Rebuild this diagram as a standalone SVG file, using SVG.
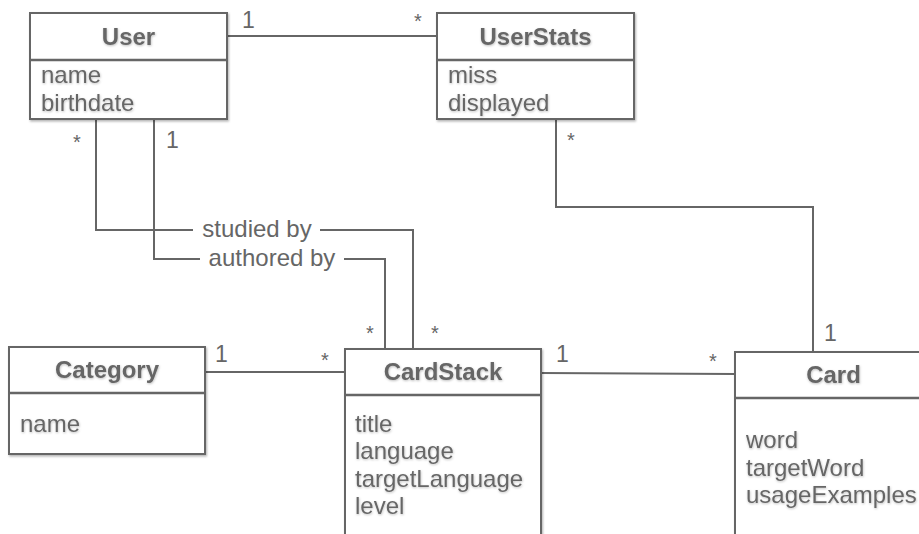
<svg xmlns="http://www.w3.org/2000/svg" width="919" height="534" viewBox="0 0 919 534">
<defs>
<filter id="sh" x="-10%" y="-10%" width="120%" height="130%">
<feDropShadow dx="1" dy="1.5" stdDeviation="1.2" flood-color="#000" flood-opacity="0.3"/>
</filter>
<filter id="tsh" x="-10%" y="-20%" width="120%" height="150%">
<feDropShadow dx="0.5" dy="1" stdDeviation="0.8" flood-color="#000" flood-opacity="0.25"/>
</filter>
</defs>
<style>
.box{fill:#fff;stroke:#666;stroke-width:2;filter:url(#sh)}
.div{stroke:#666;stroke-width:2.5;fill:none}
.t{font-family:"Liberation Sans",Arial,sans-serif;font-size:24px;fill:#666;filter:url(#tsh)}
.h{font-weight:bold;text-anchor:middle}
.c{fill:none;stroke:#666;stroke-width:2}
.m{font-family:"Liberation Sans",Arial,sans-serif;font-size:23px;fill:#666}
.s{font-family:"Liberation Sans",Arial,sans-serif;font-size:20px;fill:#666}
.lbl{font-family:"Liberation Sans",Arial,sans-serif;font-size:24px;fill:#666;text-anchor:middle}
</style>
<g id="connectors">
<path class="c" d="M227 36 H437"/>
<path class="c" d="M96 119 V230 H193"/>
<path class="c" d="M320 230 H413 V349"/>
<path class="c" d="M154 119 V259 H200"/>
<path class="c" d="M344 259 H385 V349"/>
<path class="c" d="M205 372 H345"/>
<path class="c" d="M541 373 L735 374"/>
<path class="c" d="M556 119 V207 H813 V352"/>
<text class="lbl" x="257" y="237">studied by</text>
<text class="lbl" x="272" y="266">authored by</text>
<text class="m" x="242" y="28">1</text>
<text class="s" x="414" y="28">*</text>
<text class="s" x="73" y="149">*</text>
<text class="m" x="166" y="148">1</text>
<text class="s" x="567" y="147">*</text>
<text class="s" x="366" y="340">*</text>
<text class="s" x="431" y="340">*</text>
<text class="m" x="215" y="362">1</text>
<text class="s" x="321" y="367">*</text>
<text class="m" x="556" y="362">1</text>
<text class="s" x="709" y="368">*</text>
<text class="m" x="824" y="341">1</text>
</g>
<g id="User">
<rect class="box" x="30" y="13" width="197" height="106"/>
<line class="div" x1="30" y1="60" x2="227" y2="60"/>
<text class="t h" x="128.5" y="45">User</text>
<text class="t" x="41" y="83">name</text>
<text class="t" x="41" y="111">birthdate</text>
</g>
<g id="UserStats">
<rect class="box" x="437" y="13" width="197" height="106"/>
<line class="div" x1="437" y1="60" x2="634" y2="60"/>
<text class="t h" x="535.5" y="45">UserStats</text>
<text class="t" x="448" y="83">miss</text>
<text class="t" x="448" y="111">displayed</text>
</g>
<g id="Category">
<rect class="box" x="9" y="347" width="196" height="107"/>
<line class="div" x1="9" y1="393" x2="205" y2="393"/>
<text class="t h" x="107" y="378">Category</text>
<text class="t" x="20" y="432">name</text>
</g>
<g id="CardStack">
<rect class="box" x="345" y="349" width="196" height="200"/>
<line class="div" x1="345" y1="395" x2="541" y2="395"/>
<text class="t h" x="443" y="380">CardStack</text>
<text class="t" x="355" y="432">title</text>
<text class="t" x="355" y="459">language</text>
<text class="t" x="355" y="487">targetLanguage</text>
<text class="t" x="355" y="514">level</text>
</g>
<g id="Card">
<rect class="box" x="735" y="352" width="197" height="200"/>
<line class="div" x1="735" y1="398" x2="932" y2="398"/>
<text class="t h" x="833.5" y="383">Card</text>
<text class="t" x="746" y="448">word</text>
<text class="t" x="746" y="476">targetWord</text>
<text class="t" x="746" y="503">usageExamples</text>
</g>
</svg>
